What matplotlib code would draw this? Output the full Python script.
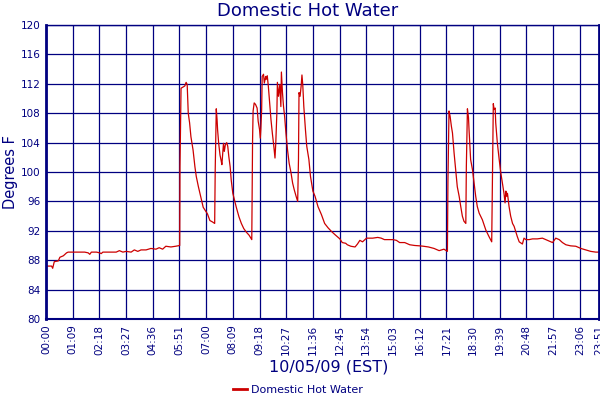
import matplotlib
matplotlib.use("Agg")
import matplotlib.pyplot as plt
from matplotlib.lines import Line2D

# x is the position along the time axis, in units of one label step
slot = [
    0.00, 0.21, 0.25, 0.31, 0.46, 0.52, 0.65, 0.77, 0.83, 1.02, 1.27, 1.45, 1.58, 1.64,
    1.70, 1.89, 2.01, 2.07, 2.13, 2.38, 2.63, 2.75, 2.88, 3.00, 3.19, 3.31, 3.44, 3.56,
    3.75, 3.93, 4.12, 4.24, 4.37, 4.49, 4.68, 4.86, 4.99,
    5.01, 5.02, 5.06, 5.20, 5.25, 5.29, 5.33, 5.38, 5.43, 5.51, 5.58, 5.63, 5.71, 5.80,
    5.89, 5.96, 6.05, 6.14, 6.24, 6.32, 6.34, 6.38, 6.41, 6.43, 6.47, 6.52, 6.56, 6.59,
    6.62, 6.65, 6.68, 6.72, 6.77, 6.81, 6.85, 6.90, 6.94, 7.00, 7.06, 7.13, 7.23, 7.32,
    7.41, 7.51, 7.61, 7.71,
    7.72, 7.74, 7.76, 7.80, 7.85, 7.91, 7.95, 8.00, 8.03, 8.05, 8.08, 8.10, 8.15, 8.18,
    8.23, 8.25, 8.29, 8.33, 8.38, 8.43, 8.48, 8.53, 8.58, 8.61, 8.65, 8.67, 8.71, 8.76,
    8.80, 8.82, 8.86, 8.90, 8.94, 8.99, 9.05, 9.11, 9.18, 9.24, 9.30, 9.37, 9.43, 9.46,
    9.48, 9.52, 9.56, 9.59, 9.62, 9.66, 9.72, 9.77, 9.85, 9.91, 10.00, 10.08, 10.19,
    10.32, 10.44, 10.57, 10.70, 10.82, 11.01,
    11.10, 11.23, 11.29, 11.42, 11.58, 11.67, 11.76, 11.86, 12.01, 12.24, 12.43, 12.56,
    12.68, 12.87, 13.00, 13.13, 13.25, 13.44, 13.63, 13.82, 14.01, 14.14, 14.33,
    14.54, 14.73, 14.91, 15.04, 15.06, 15.10, 15.14, 15.19, 15.23, 15.29, 15.35, 15.41,
    15.48, 15.54, 15.60, 15.66, 15.73, 15.75, 15.79, 15.83, 15.85, 15.91, 15.98, 16.04,
    16.10, 16.16, 16.23, 16.35, 16.48, 16.60, 16.70, 16.73, 16.76, 16.79, 16.83, 16.85,
    16.91, 16.98, 17.04, 17.10, 17.16, 17.20, 17.23, 17.26, 17.29, 17.35, 17.41, 17.48,
    17.54, 17.60, 17.66, 17.73, 17.85, 17.91, 17.98, 18.10, 18.23, 18.41, 18.60, 18.79,
    18.98, 19.10, 19.23, 19.35, 19.48, 19.66, 19.85, 20.04, 20.23, 20.41, 20.60, 20.70,
]

temp_f = [
    87.2, 87.2, 86.9, 87.8, 87.9, 88.4, 88.6, 89.0, 89.1, 89.1, 89.1, 89.1, 89.0, 88.8,
    89.1, 89.1, 89.0, 88.9, 89.1, 89.1, 89.1, 89.3, 89.1, 89.2, 89.1, 89.4, 89.2, 89.4,
    89.4, 89.6, 89.5, 89.7, 89.5, 89.9, 89.8, 89.9, 90.0,
    90.0, 100.7, 111.4, 111.7, 112.2, 111.9, 108.0, 106.7, 104.8, 103.0, 100.7, 99.4,
    98.0, 96.6, 95.2, 94.8, 94.3, 93.4, 93.2, 93.0, 100.3, 108.6, 107.1, 105.7, 103.9,
    102.3, 101.6, 101.0, 102.5, 103.9, 102.8, 103.7, 104.0, 103.5, 102.1, 100.7, 98.9,
    97.1, 96.2, 95.2, 93.9, 93.0, 92.3, 91.8, 91.4, 90.8,
    96.0, 104.4, 108.3, 109.4, 109.2, 108.7, 106.9, 105.8, 104.6, 105.8, 108.5, 113.0,
    113.3, 112.1, 113.0, 112.6, 113.1, 111.7, 109.4, 107.1, 105.3, 103.7, 101.9, 104.0,
    108.0, 112.2, 110.3, 111.9, 108.9, 113.6, 110.8, 108.9, 107.6, 105.3, 103.0, 101.2,
    99.9, 98.5, 97.6, 96.7, 96.0, 101.7, 110.8, 110.3, 111.7, 113.2, 111.9, 108.9,
    105.8, 103.5, 101.7, 99.4, 97.4, 96.7, 95.3, 94.2, 93.0, 92.4, 91.9, 91.5, 90.9,
    90.4, 90.3, 90.1, 89.9, 89.8, 90.2, 90.7, 90.5, 91.0, 91.0, 91.1, 91.0, 90.8, 90.8,
    90.8, 90.7, 90.4, 90.4, 90.1, 90.0, 89.95, 89.9, 89.8,
    89.6, 89.3, 89.5, 89.2, 98.7, 108.3, 107.6, 106.2, 105.3, 102.6, 100.3, 98.0, 96.7,
    95.3, 94.0, 93.3, 93.0, 100.8, 108.6, 107.4, 105.8, 101.7, 100.3, 98.5, 96.7, 95.3,
    94.4, 93.5, 92.1, 91.2, 90.5, 100.3, 109.3, 108.5, 108.7, 106.7, 104.0, 101.7, 99.9,
    98.5, 97.1, 95.8, 97.4, 96.7, 97.1, 95.3, 94.0, 93.0, 92.6, 91.9, 91.2, 90.5, 90.2,
    91.0, 90.8, 90.8, 90.9, 90.9, 91.0, 90.7, 90.4, 91.0, 90.8, 90.4, 90.1, 89.95, 89.9,
    89.6, 89.4, 89.2, 89.1, 89.1,
]

tick_labels = [
    "00:00", "01:09", "02:18", "03:27", "04:36", "05:51", "07:00", "08:09", "09:18",
    "10:27", "11:36", "12:45", "13:54", "15:03", "16:12", "17:21", "18:30", "19:39",
    "20:48", "21:57", "23:06", "23:51",
]
tick_pos = list(range(21)) + [20.72]
y_ticks = [80, 84, 88, 92, 96, 100, 104, 108, 112, 116, 120]

navy = "#000080"
red = "#cc0000"

fig = plt.figure(figsize=(6, 4), dpi=100)
ax = fig.add_axes([46 / 600, 81 / 400, 553 / 600, 294 / 400])

ax.plot(slot, temp_f, color=red, linewidth=0.9)

ax.set_xlim(0, 20.72)
ax.set_ylim(80, 120)
ax.set_xticks(tick_pos)
ax.set_xticklabels(tick_labels, rotation=90, fontsize=7.5, color=navy)
ax.set_yticks(y_ticks)
ax.set_yticklabels([str(v) for v in y_ticks], fontsize=7.5, color=navy)
ax.tick_params(length=0, pad=4)
ax.grid(True, color=navy, linewidth=0.9)
ax.set_axisbelow(True)

for side, lw in [("left", 2), ("right", 2), ("bottom", 1.5), ("top", 1)]:
    ax.spines[side].set_color(navy)
    ax.spines[side].set_linewidth(lw)

fig.text(0.018, 0.57, "Degrees F", rotation=90, ha="center", va="center",
         fontsize=10.5, color=navy)
fig.text(0.512, 0.972, "Domestic Hot Water", ha="center", va="center",
         fontsize=13, color=navy)
fig.text(0.548, 0.083, "10/05/09 (EST)", ha="center", va="center",
         fontsize=11.5, color=navy)

handle = Line2D([], [], color=red, linewidth=2)
fig.legend([handle], ["Domestic Hot Water"], loc="center", bbox_to_anchor=(0.497, 0.025),
           frameon=False, fontsize=8, handlelength=1.2, handletextpad=0.4,
           labelcolor=navy)

fig.savefig("out.png", dpi=100)
